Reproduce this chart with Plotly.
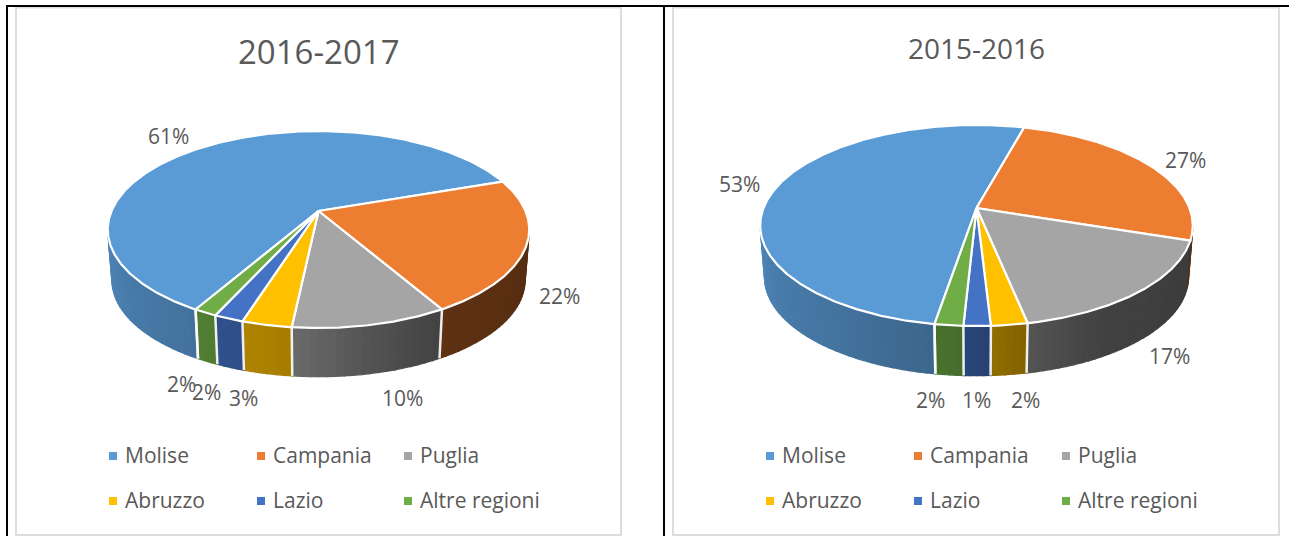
import numpy as np
import plotly.graph_objects as go

# ---- data ----
regions = ["Molise", "Campania", "Puglia", "Abruzzo", "Lazio", "Altre regioni"]
title_a = "2016-2017"
values_a = [61.4, 22, 10, 3.2, 1.9, 1.5]
labels_a = ["61%", "22%", "10%", "3%", "2%", "2%"]
title_b = "2015-2016"
values_b = [51.6, 25.9, 16.7, 2.3, 1.7, 1.8]
labels_b = ["53%", "27%", "17%", "2%", "1%", "2%"]

# ---- style / layout ----
colors = ["#5B9BD5", "#ED7D31", "#A5A5A5", "#FFC000", "#4472C4", "#70AD47"]
TEXT = "#595959"
FONT = "Open Sans"
W, H = 1289, 536
shade_t = [-90, 0, 60, 80, 96, 125, 180, 270]
shade_f = [0.35, 0.35, 0.40, 0.52, 0.65, 0.75, 0.88, 0.88]

pie_a = dict(hx=318.5, hy=211, A=207, B=95, p=0.188, depth=51, start=119.8)
pie_b = dict(hx=976.5, hy=208, A=213, B=97.5, p=0.174, depth=52, start=18.5 - 93.3 - 185.8)
label_xy_a = [(168, 136), (559, 296), (402, 398), (243, 398), (206, 392), (181, 384)]
label_xy_b = [(739, 184), (1185, 160), (1169, 356), (1025, 400), (976, 400), (930, 400)]


def rim(cfg, deg, scale=1.0, dy=0.0):
    t = np.radians(deg)
    u, v = np.cos(t), np.sin(t)
    w = 1 - cfg["p"] * v
    return cfg["hx"] + scale * cfg["A"] * u / w, cfg["hy"] + dy + scale * cfg["B"] * v / w


def mix(hex_color, f):
    r, g, b = [int(hex_color[i:i + 2], 16) for i in (1, 3, 5)]
    return f"rgb({int(r * f)},{int(g * f)},{int(b * f)})"


def poly(x, y, fill, line=None, lw=0.0):
    return go.Scatter(x=list(x), y=list(y), mode="lines", fill="toself", fillcolor=fill,
                      line=dict(color=line or fill, width=lw), hoverinfo="skip", showlegend=False)


def add_pie(fig, cfg, values):
    total = sum(values)
    edges = cfg["start"] + np.concatenate([[0], np.cumsum(values)]) * 360.0 / total
    WS = 0.98
    # side wall
    segs = []
    for i, c in enumerate(colors):
        a0, a1 = edges[i], edges[i + 1]
        n = max(2, int(np.ceil((a1 - a0) / 2)))
        th = np.linspace(a0, a1, n + 1)
        for s, e in zip(th[:-1], th[1:]):
            segs.append((s, e, c))
    segs = [sg for sg in segs if np.sin(np.radians((sg[0] + sg[1]) / 2)) > 0.17]
    for s, e, c in segs:
        m = ((s + e) / 2 + 90) % 360 - 90
        f = float(np.interp(m, shade_t, shade_f))
        t = np.array([s, e])
        x1, y1 = rim(cfg, t)
        x2, y2 = rim(cfg, t[::-1], WS, cfg["depth"])
        fig.add_trace(poly(np.r_[x1, x2, x1[0]], np.r_[y1, y2, y1[0]], mix(c, f), lw=1.3))
    # white separators on the wall
    for e in edges:
        if np.sin(np.radians(e)) > 0.4:
            x1, y1 = rim(cfg, e)
            x2, y2 = rim(cfg, e, WS, cfg["depth"])
            fig.add_trace(go.Scatter(x=[x1, x2], y=[y1, y2], mode="lines", hoverinfo="skip",
                                     showlegend=False, line=dict(color="rgba(255,255,255,0.9)", width=2.5)))
    # top faces
    for i, c in enumerate(colors):
        t = np.linspace(edges[i], edges[i + 1], max(3, int(edges[i + 1] - edges[i]) * 2))
        x, y = rim(cfg, t)
        fig.add_trace(poly(np.r_[cfg["hx"], x, cfg["hx"]], np.r_[cfg["hy"], y, cfg["hy"]],
                           c, "#FFFFFF", 2.2))


fig = go.Figure()
add_pie(fig, pie_a, values_a)
add_pie(fig, pie_b, values_b)

annotations = []


def text(x, y, s, size, anchor="center"):
    annotations.append(dict(x=x, y=y, text=s, showarrow=False, xanchor=anchor, yanchor="middle",
                            xref="x", yref="y", font=dict(family=FONT, size=size, color=TEXT)))


text(318.5, 51, title_a, 33)
text(976, 48, title_b, 28)
for lab, (x, y) in zip(labels_a, label_xy_a):
    text(x, y, lab, 21)
for lab, (x, y) in zip(labels_b, label_xy_b):
    text(x, y, lab, 21)

# legends
legend_x_a = [113, 261, 408]
legend_x_b = [770, 918, 1066]
legend_y = [456, 501]
for xs in (legend_x_a, legend_x_b):
    for i, (name, c) in enumerate(zip(regions, colors)):
        lx = xs[i % 3]
        ly = legend_y[i // 3]
        fig.add_trace(go.Scatter(x=[lx], y=[ly], mode="markers", hoverinfo="skip", showlegend=False,
                                 marker=dict(symbol="square", size=8, color=c)))
        text(lx + 10, ly - 1, name, 21, "left")

GRAY = "#DDDDDD"
shapes = []
for x0, x1 in ((16, 621), (673, 1279)):
    shapes.append(dict(type="rect", x0=x0, x1=x1, y0=7.5, y1=535, line=dict(color=GRAY, width=2),
                       layer="below"))
for seg in ((7, 5, 7, 536), (664, 5, 664, 536)):
    shapes.append(dict(type="line", x0=seg[0], y0=seg[1], x1=seg[2], y1=seg[3],
                       line=dict(color="#000000", width=2)))
shapes.append(dict(type="line", x0=6, y0=6, x1=W, y1=6, line=dict(color="#000000", width=2)))

fig.update_layout(
    width=W, height=H, margin=dict(l=0, r=0, t=0, b=0),
    paper_bgcolor="white", plot_bgcolor="white", showlegend=False,
    xaxis=dict(range=[0, W], visible=False, fixedrange=True),
    yaxis=dict(range=[H, 0], visible=False, fixedrange=True),
    annotations=annotations, shapes=shapes,
)
fig.write_html("out.html", config=dict(displayModeBar=False),
               post_script="document.body.style.margin='0';document.body.style.overflow='hidden';")
